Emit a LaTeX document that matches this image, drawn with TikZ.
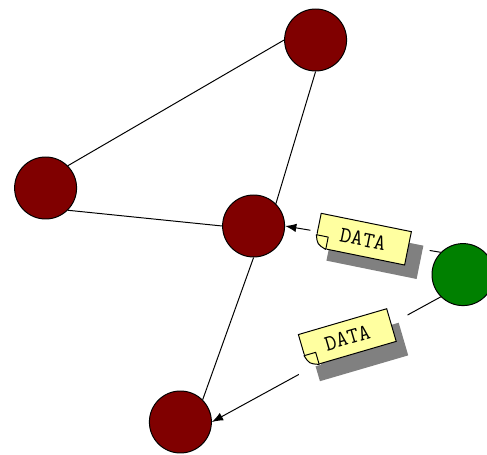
\documentclass[tikz,border=0pt]{standalone}
\usetikzlibrary{shapes,arrows.meta,calc,shadows}
\definecolor{hostred}{RGB}{128,0,0}
\definecolor{hostgreen}{RGB}{0,128,0}
\definecolor{notefill}{RGB}{255,255,160}
\definecolor{shadowgray}{RGB}{128,128,128}
\tikzstyle{link} = [draw, line width=0.7pt]
\tikzstyle{line} = [draw, line width=0.7pt, -{Latex[length=8pt,width=6pt]}]
\tikzstyle{host} = [draw, circle, fill=hostred, minimum size=1.55cm, inner sep=0pt, line width=0.7pt]
\tikzstyle{sender} = [host, fill=hostgreen]
\tikzstyle{msg} = [draw, rectangle, fill=notefill, text centered, minimum width=2.3cm, minimum height=0.85cm, line width=0.7pt,
    font=\ttfamily\fontsize{16}{17}\selectfont,
    preaction={draw=white, fill=white, line width=0.72cm, transform canvas={shift={(0.15cm,-0.17cm)}}},
    drop shadow={shadow xshift=0.3cm, shadow yshift=-0.35cm, fill=shadowgray, opacity=1}]
% folded corner of a message note
\newcommand{\fold}[1]{%
  \filldraw[white, line width=1pt] (#1.south west) -- ($(#1.south west)!0.13!(#1.south east)$) -- ($(#1.south west)!0.36!(#1.north west)$) -- cycle;
  \draw[link, fill=notefill, line join=round] ($(#1.south west)!0.36!(#1.north west)$)
    -- ($(#1.south west)!0.13!(#1.south east) + 0.36*(#1.north west) - 0.36*(#1.south west)$)
    -- ($(#1.south west)!0.13!(#1.south east)$)
    .. controls ($(#1.south west)!0.03!(#1.south east) + 0.1*(#1.north west) - 0.1*(#1.south west)$) .. cycle;
}

\begin{document}
\begin{tikzpicture}
    \useasboundingbox (0,0) rectangle (12.175,11.375);
    \node[host] (hub) at (6.34,5.725) {};
    \node[host, above of=hub, node distance=4.65cm, xshift=1.55cm] (top) {};
    \node[host, left of=hub, node distance=5.2cm, yshift=0.95cm] (left) {};
    \node[host, below of=hub, node distance=4.9cm, xshift=-1.83cm] (bottom) {};
    \node[sender, right of=hub, node distance=5.235cm, yshift=-1.215cm] (src) {};
    \path[link] (top.west) -- (left.45);
    \path[link] (top.south) -- (hub.45);
    \path[link] (left.-45) -- (hub.west);
    \path[link] (hub.south) -- (bottom.45);
    \path[line] (src.135) -- node[msg, rotate=-11.5] (msg1) {DATA} (hub.east);
    \path[line] (src.225) -- node[msg, rotate=16.3, pos=0.38, xshift=-0.11cm, yshift=0.2cm] (msg2) {DATA} (bottom.east);
    \fold{msg1}
    \fold{msg2}
\end{tikzpicture}
\end{document}
